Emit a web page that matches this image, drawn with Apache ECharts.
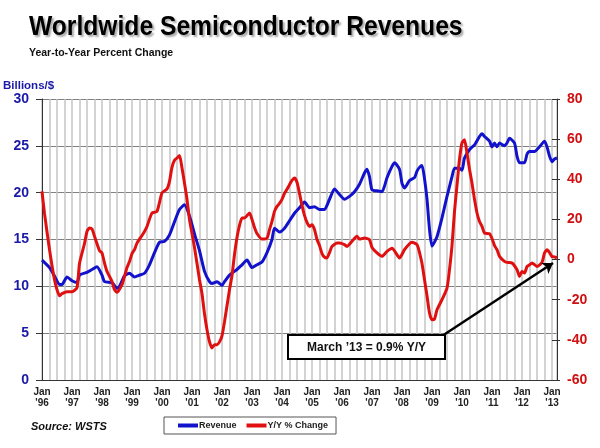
<!DOCTYPE html>
<html>
<head>
<meta charset="utf-8">
<script src="https://cdn.jsdelivr.net/npm/echarts@6/dist/echarts.min.js"></script>
<style>html,body{margin:0;padding:0;background:#fff}#c{width:600px;height:448px}</style>
</head>
<body>
<div id="c"></div>
<script>
// x values are months counted from Jan 1996 (0 = Jan '96, 204 = Jan '13)
const revMonth = [
  0,3,5,7,8,10,12,14,15,18,
  20,22,24,25,28,30,31,33,35,37,
  39,41,43,45,47,49,51,53,55,57,
  59,61,63,65,67,68,70,72,73,75,
  78,80,82,84,86,88,90,92,93,95,
  97,99,101,103,105,107,109,111,113,115,
  117,119,121,123,125,127,129,130,131,132,
  134,136,138,140,141,143,144,145,147,149,
  150,151,152,153,154,155,156,158,160,162,
  164,165,167,168,169,171,173,175,176,177,
  179,180,181,182,183,185,186,187,189,190,
  191,193,194,195,197,199,201,202,203,204,
  205,206
];
const revenue = [
  12.8,12.0,11.1,10.2,10.2,11.0,10.6,10.4,11.2,11.5,
  11.8,12.1,11.2,10.5,10.4,9.8,10.0,11.1,11.4,11.0,
  11.2,11.4,12.3,13.6,14.7,14.8,15.5,16.9,18.2,18.7,
  17.5,15.6,13.8,11.6,10.5,10.3,10.5,10.1,10.5,11.2,
  11.8,12.3,12.8,12.0,12.3,12.6,13.6,15.0,16.2,15.8,
  16.2,17.0,17.8,18.4,19.0,18.4,18.5,18.2,18.2,19.3,
  20.4,19.8,19.3,19.6,20.1,20.9,22.1,22.5,21.7,20.3,
  20.2,20.1,21.6,22.8,23.2,22.5,21.0,20.5,21.3,21.6,
  22.3,22.7,22.9,21.5,19.3,16.1,14.3,15.3,17.3,19.6,
  21.7,22.6,22.6,22.4,23.7,24.6,25.1,26.0,26.3,26.0,
  25.5,24.9,25.3,24.9,25.3,25.0,25.3,25.8,25.3,23.9,
  23.2,23.2,24.1,24.4,24.4,24.9,25.5,24.9,23.9,23.3,
  23.6,23.7
];
const yoyMonth = [
  0,1,3,5,7,8,10,12,14,15,
  17,18,19,20,21,23,24,25,26,28,
  29,30,32,33,34,35,36,37,38,40,
  41,42,44,46,48,50,51,52,53,54,
  55,56,57,58,59,60,61,62,63,64,
  65,66,67,68,69,70,71,72,73,74,
  75,76,77,78,79,80,81,83,84,85,
  86,88,90,91,92,93,94,95,96,97,
  98,99,100,101,102,103,104,105,106,107,
  108,109,110,111,112,113,114,115,116,118,
  119,121,122,124,126,127,129,131,132,134,
  136,138,140,142,143,145,147,148,150,151,
  152,153,154,155,156,157,158,160,162,163,
  164,165,166,167,168,169,170,171,172,173,
  174,175,176,177,179,180,181,182,183,185,
  186,188,190,191,192,193,194,195,196,198,
  200,201,202,203,204,205,206
];
const yoy = [
  34,23,5,-10,-18,-17,-16,-16,-14,-2,
  8,14,15.7,15.2,11.6,4.5,3.3,-1.7,-5.9,-10.9,
  -15,-16.3,-12.5,-8.4,-4,-1,3,5,8.2,12,
  14,16.5,23.2,24.0,33.2,35.2,39,46,49.5,50.6,
  51.8,45.6,38,30,20,13,6,-2,-10,-17,
  -27,-35,-41,-44,-42.4,-42.4,-41,-38,-31,-23,
  -15,-8,2.5,11,17,20.7,20.7,23.2,20,16,
  13,10.2,10.7,14.9,19,24,26.5,28,30,33,
  35,37.3,39.5,40.6,38.5,33,27,22,18.5,16.5,
  17.4,15,10,7,3,1.2,0.8,3.5,6.6,8.2,
  8.2,7.4,6.6,9.1,11.6,10.2,10.7,9.9,6,3.3,
  1.6,4.1,5.7,2.4,0.8,4.9,7.9,8.6,7.4,3.5,
  -2,-10,-18,-26.6,-30,-29.6,-25,-20,-14.2,-5,
  7,24,37,50,58.1,59.7,53,45,38,30,
  23.2,19,16.5,13.2,12.9,10.5,7,4.9,1.6,-0.9,
  -1.4,-1.7,-5,-8.4,-5.9,-6.7,-3.5,-2.6,-1.7,-3.4,
  -1.4,3.3,4.9,3.5,1.5,1.3,0.9
];
const revTicks = [0, 30, 5];      // min, max, step (Billions/$)
const yoyTicks = [-60, 80, 20];   // min, max, step (%)
const startYear = 1996;
const lastMonth = 206;            // Mar '13

const FONT = '"Liberation Sans", Arial, sans-serif';
const BLUE = '#1212cc';
const RED = '#e01010';
const zip = (xs, ys) => xs.map((x, i) => [x, ys[i]]);

const chart = echarts.init(document.getElementById('c'), null, {renderer: 'canvas'});
chart.setOption({
  animation: false,
  backgroundColor: '#fff',
  grid: {left: 42, right: 43, top: 99, bottom: 68, containLabel: false},
  xAxis: {
    type: 'value', min: 0, max: lastMonth, interval: 3,
    axisLine: {show: true, lineStyle: {color: '#333', width: 1}},
    axisTick: {show: false},
    splitLine: {show: true, lineStyle: {color: '#c4c4c4', width: 1.5}},
    axisLabel: {
      margin: 6, color: '#222', fontFamily: FONT, fontWeight: 'bold', fontSize: 10, lineHeight: 11.5,
      showMaxLabel: false,
      formatter: v => (v % 12 === 0) ? "Jan\n'" + String((startYear + v / 12) % 100).padStart(2, '0') : ''
    }
  },
  yAxis: [
    {
      type: 'value', position: 'left', min: revTicks[0], max: revTicks[1], interval: revTicks[2],
      axisLine: {show: true, lineStyle: {color: '#333'}},
      axisTick: {show: true, length: 6, lineStyle: {color: '#333'}},
      splitLine: {show: true, lineStyle: {color: '#808080', width: 1}},
      axisLabel: {margin: 13, color: '#1a1aa8', fontFamily: FONT, fontWeight: 'bold', fontSize: 14}
    },
    {
      type: 'value', position: 'right', min: yoyTicks[0], max: yoyTicks[1], interval: yoyTicks[2],
      axisLine: {show: true, lineStyle: {color: '#333'}},
      axisTick: {show: true, length: 3, lineStyle: {color: '#333'}},
      splitLine: {show: false},
      axisLabel: {margin: 10, color: '#d01010', fontFamily: FONT, fontWeight: 'bold', fontSize: 14}
    },
    {
      type: 'value', position: 'right', min: yoyTicks[0], max: yoyTicks[1], interval: yoyTicks[2],
      axisLine: {show: false},
      axisTick: {show: true, inside: true, length: 5, lineStyle: {color: '#333'}},
      splitLine: {show: false},
      axisLabel: {show: false}
    }
  ],
  legend: {
    left: 164, top: 417, orient: 'horizontal',
    padding: [4, 8, 4, 14], itemGap: 10, itemWidth: 20, itemHeight: 4, icon: 'rect',
    borderColor: '#555', borderWidth: 1,
    textStyle: {fontFamily: FONT, fontWeight: 'bold', fontSize: 9, color: '#222', padding: [0, 0, 0, -4]},
    data: ['Revenue', 'Y/Y % Change']
  },
  series: [
    {
      name: 'Revenue', type: 'line', yAxisIndex: 0, data: zip(revMonth, revenue),
      showSymbol: false, smooth: 0.2, lineStyle: {color: BLUE, width: 3}, itemStyle: {color: BLUE}
    },
    {
      name: 'Y/Y % Change', type: 'line', yAxisIndex: 1, data: zip(yoyMonth, yoy),
      showSymbol: false, smooth: 0.2, lineStyle: {color: RED, width: 3}, itemStyle: {color: RED},
      markLine: {
        silent: true, symbol: ['none', 'arrow'], symbolSize: 10,
        lineStyle: {color: '#000', width: 2.5, type: 'solid'},
        label: {show: false},
        data: [[{x: 442, y: 336}, {x: 553, y: 263}]]
      }
    }
  ],
  graphic: [
    {
      type: 'text', x: 29, y: 13, scaleX: 0.88, z: 10,
      style: {
        text: 'Worldwide Semiconductor Revenues', fill: '#000',
        font: 'bold 28px ' + FONT, textAlign: 'left', textVerticalAlign: 'top',
        textShadowColor: 'rgba(0,0,0,0.35)', textShadowBlur: 2, textShadowOffsetX: 2, textShadowOffsetY: 2
      }
    },
    {
      type: 'text', x: 29, y: 48, z: 10,
      style: {text: 'Year-to-Year Percent Change', fill: '#111', font: 'bold 10.5px ' + FONT,
              textAlign: 'left', textVerticalAlign: 'top'}
    },
    {
      type: 'text', x: 3, y: 80, z: 10,
      style: {text: 'Billions/$', fill: '#1a1aa8', font: 'bold 11.5px ' + FONT,
              textAlign: 'left', textVerticalAlign: 'top'}
    },
    {
      type: 'text', x: 31, y: 421, z: 10,
      style: {text: 'Source: WSTS', fill: '#111', font: 'italic bold 11px ' + FONT,
              textAlign: 'left', textVerticalAlign: 'top'}
    },
    {
      type: 'group', z: 100,
      children: [
        {type: 'rect', shape: {x: 288, y: 335, width: 157, height: 24},
         style: {fill: '#fff', stroke: '#000', lineWidth: 2}, z: 100},
        {type: 'text', x: 366.5, y: 347.5, z: 101,
         style: {text: 'March \u201913 = 0.9% Y/Y', fill: '#111', font: 'bold 12px ' + FONT,
                 textAlign: 'center', textVerticalAlign: 'middle'}}
      ]
    }
  ]
});
</script>
</body>
</html>
